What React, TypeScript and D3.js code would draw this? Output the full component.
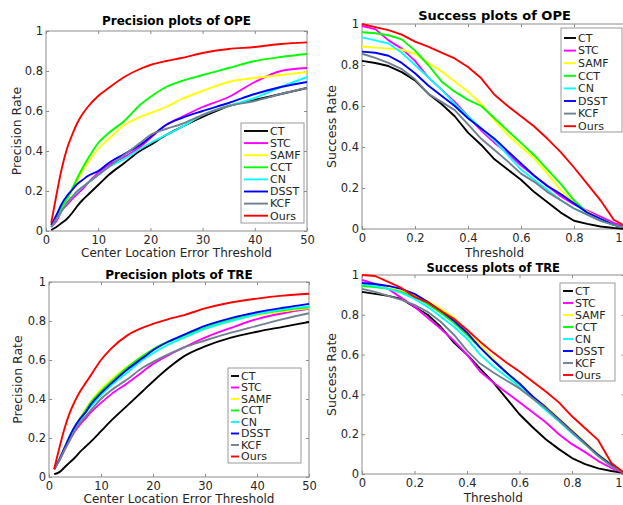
import React, { useEffect, useRef } from "react";
import * as d3 from "d3";

// trackers in legend / draw order
const trackers = ["CT", "STC", "SAMF", "CCT", "CN", "DSST", "KCF", "Ours"];
const colors = ["#000000", "#ff00ff", "#ffff00", "#00ff00", "#00ffff", "#0000ff", "#708090", "#ff0000"];

// x samples
const precX = [1, 2, 3, 4, 5, 6, 7, 8, 10, 12, 15, 18, 20, 23, 26, 30, 35, 40, 45, 50];
const succX = [0, 0.05, 0.1, 0.15, 0.2, 0.25, 0.3, 0.35, 0.4, 0.45, 0.5, 0.55, 0.6, 0.65, 0.7, 0.75, 0.8, 0.85, 0.9, 0.95, 1];

// precision OPE, one row per tracker
const precOPE = [
  [0.005, 0.02, 0.04, 0.06, 0.09, 0.125, 0.155, 0.18, 0.23, 0.28, 0.34, 0.4, 0.43, 0.48, 0.52, 0.57, 0.625, 0.655, 0.685, 0.715],
  [0.02, 0.05, 0.1, 0.13, 0.16, 0.185, 0.21, 0.24, 0.29, 0.33, 0.37, 0.42, 0.465, 0.53, 0.57, 0.62, 0.67, 0.745, 0.8, 0.815],
  [0.03, 0.07, 0.12, 0.16, 0.2, 0.25, 0.3, 0.34, 0.41, 0.46, 0.53, 0.57, 0.59, 0.62, 0.66, 0.7, 0.745, 0.765, 0.78, 0.795],
  [0.03, 0.07, 0.12, 0.16, 0.21, 0.265, 0.315, 0.36, 0.44, 0.49, 0.55, 0.63, 0.67, 0.72, 0.75, 0.78, 0.815, 0.85, 0.87, 0.885],
  [0.02, 0.06, 0.1, 0.14, 0.17, 0.195, 0.22, 0.24, 0.28, 0.32, 0.36, 0.41, 0.44, 0.48, 0.52, 0.58, 0.625, 0.665, 0.72, 0.77],
  [0.03, 0.08, 0.135, 0.175, 0.205, 0.235, 0.255, 0.275, 0.3, 0.34, 0.385, 0.43, 0.47, 0.53, 0.565, 0.6, 0.64, 0.685, 0.72, 0.745],
  [0.02, 0.06, 0.1, 0.14, 0.17, 0.2, 0.22, 0.24, 0.28, 0.32, 0.38, 0.44, 0.48, 0.51, 0.535, 0.58, 0.625, 0.65, 0.685, 0.715],
  [0.04, 0.18, 0.31, 0.41, 0.48, 0.54, 0.585, 0.62, 0.675, 0.715, 0.77, 0.81, 0.83, 0.85, 0.865, 0.89, 0.91, 0.92, 0.935, 0.943],
];

// success OPE
const succOPE = [
  [0.82, 0.81, 0.795, 0.765, 0.725, 0.66, 0.61, 0.55, 0.47, 0.41, 0.34, 0.29, 0.24, 0.18, 0.13, 0.08, 0.04, 0.025, 0.012, 0.005, 0],
  [0.99, 0.975, 0.92, 0.88, 0.82, 0.74, 0.68, 0.62, 0.55, 0.48, 0.42, 0.37, 0.31, 0.26, 0.21, 0.16, 0.12, 0.09, 0.06, 0.03, 0.01],
  [0.89, 0.885, 0.88, 0.875, 0.855, 0.81, 0.77, 0.72, 0.67, 0.61, 0.53, 0.46, 0.4, 0.345, 0.27, 0.19, 0.13, 0.085, 0.05, 0.02, 0.005],
  [0.96, 0.955, 0.945, 0.925, 0.87, 0.8, 0.72, 0.67, 0.63, 0.6, 0.54, 0.48, 0.42, 0.36, 0.29, 0.22, 0.14, 0.08, 0.05, 0.02, 0.005],
  [0.935, 0.92, 0.905, 0.86, 0.8, 0.74, 0.68, 0.61, 0.55, 0.49, 0.43, 0.36, 0.29, 0.24, 0.19, 0.14, 0.1, 0.07, 0.04, 0.02, 0.005],
  [0.865, 0.86, 0.845, 0.81, 0.76, 0.7, 0.65, 0.6, 0.54, 0.49, 0.44, 0.38, 0.32, 0.26, 0.21, 0.17, 0.125, 0.08, 0.05, 0.02, 0.005],
  [0.855, 0.835, 0.81, 0.78, 0.73, 0.66, 0.62, 0.58, 0.51, 0.44, 0.385, 0.33, 0.27, 0.23, 0.18, 0.14, 0.1, 0.07, 0.04, 0.02, 0.005],
  [1.0, 0.985, 0.97, 0.948, 0.914, 0.89, 0.86, 0.832, 0.79, 0.735, 0.655, 0.6, 0.55, 0.5, 0.44, 0.375, 0.3, 0.22, 0.14, 0.045, 0.01],
];

// precision TRE
const precTRE = [
  [0.015, 0.025, 0.05, 0.075, 0.1, 0.13, 0.155, 0.18, 0.235, 0.29, 0.365, 0.44, 0.49, 0.56, 0.62, 0.67, 0.715, 0.745, 0.77, 0.795],
  [0.04, 0.085, 0.14, 0.19, 0.235, 0.27, 0.3, 0.33, 0.38, 0.425, 0.48, 0.54, 0.58, 0.625, 0.665, 0.715, 0.765, 0.81, 0.84, 0.862],
  [0.04, 0.09, 0.15, 0.21, 0.26, 0.305, 0.345, 0.385, 0.45, 0.5, 0.565, 0.62, 0.65, 0.69, 0.72, 0.76, 0.8, 0.83, 0.85, 0.865],
  [0.04, 0.09, 0.15, 0.21, 0.26, 0.3, 0.34, 0.38, 0.44, 0.49, 0.56, 0.62, 0.655, 0.695, 0.725, 0.765, 0.805, 0.835, 0.855, 0.87],
  [0.04, 0.09, 0.145, 0.2, 0.25, 0.29, 0.33, 0.36, 0.42, 0.47, 0.535, 0.6, 0.635, 0.68, 0.715, 0.76, 0.8, 0.835, 0.86, 0.875],
  [0.04, 0.09, 0.15, 0.21, 0.26, 0.3, 0.33, 0.37, 0.43, 0.48, 0.55, 0.61, 0.65, 0.695, 0.73, 0.775, 0.815, 0.845, 0.868, 0.888],
  [0.04, 0.085, 0.14, 0.19, 0.24, 0.28, 0.31, 0.34, 0.4, 0.445, 0.5, 0.56, 0.59, 0.63, 0.665, 0.7, 0.74, 0.775, 0.81, 0.84],
  [0.04, 0.15, 0.25, 0.33, 0.39, 0.44, 0.48, 0.52, 0.6, 0.66, 0.725, 0.765, 0.785, 0.81, 0.83, 0.865, 0.895, 0.915, 0.93, 0.94],
];

// success TRE
const succTRE = [
  [0.915, 0.905, 0.895, 0.88, 0.84, 0.8, 0.74, 0.66, 0.6, 0.53, 0.46, 0.38, 0.3, 0.235, 0.175, 0.125, 0.08, 0.05, 0.028, 0.015, 0.005],
  [0.975, 0.955, 0.93, 0.885, 0.84, 0.785, 0.73, 0.67, 0.6, 0.515, 0.46, 0.41, 0.36, 0.31, 0.26, 0.2, 0.15, 0.11, 0.065, 0.03, 0.005],
  [0.95, 0.945, 0.935, 0.92, 0.9, 0.87, 0.83, 0.785, 0.72, 0.65, 0.58, 0.51, 0.45, 0.39, 0.34, 0.28, 0.22, 0.16, 0.1, 0.05, 0.005],
  [0.945, 0.94, 0.93, 0.915, 0.89, 0.855, 0.81, 0.76, 0.7, 0.635, 0.57, 0.51, 0.45, 0.39, 0.33, 0.27, 0.21, 0.15, 0.09, 0.04, 0.005],
  [0.955, 0.945, 0.93, 0.91, 0.88, 0.84, 0.79, 0.74, 0.68, 0.6, 0.54, 0.49, 0.44, 0.38, 0.32, 0.265, 0.205, 0.15, 0.095, 0.045, 0.005],
  [0.96, 0.955, 0.945, 0.93, 0.905, 0.865, 0.82, 0.77, 0.71, 0.635, 0.57, 0.51, 0.455, 0.39, 0.335, 0.275, 0.215, 0.155, 0.095, 0.045, 0.005],
  [0.93, 0.915, 0.895, 0.875, 0.85, 0.815, 0.765, 0.7, 0.62, 0.555, 0.51, 0.47, 0.43, 0.38, 0.33, 0.27, 0.21, 0.15, 0.09, 0.04, 0.005],
  [1.0, 0.995, 0.965, 0.935, 0.89, 0.862, 0.82, 0.78, 0.725, 0.665, 0.61, 0.56, 0.515, 0.465, 0.415, 0.36, 0.29, 0.23, 0.17, 0.055, 0.005],
];

const rateTicks = [0, 0.2, 0.4, 0.6, 0.8, 1];
const errTicks = [0, 10, 20, 30, 40, 50];

const panels = [
  {
    x0: 46, x1: 307, y0: 31, y1: 231, xs: precX, rows: precOPE, xMax: 50, xTicks: errTicks, smooth: true,
    title: "Precision plots of OPE", titleY: 25, titleSize: 12,
    xLabel: "Center Location Error Threshold", xLabelY: 257, yLabel: "Precision Rate", yLabelX: 17,
    leg: { x: 241, y: 123, w: 63, h: 100, line: 24, first: 131, gap: 12.1 },
  },
  {
    x0: 362, x1: 627, y0: 24, y1: 229, xs: succX, rows: succOPE, xMax: 1, xTicks: rateTicks, smooth: false,
    title: "Success plots of OPE", titleY: 20, titleSize: 13,
    xLabel: "Threshold", xLabelY: 257, yLabel: "Success Rate", yLabelX: 332,
    leg: { x: 561, y: 28, w: 61, h: 104, line: 12, first: 38, gap: 12.6 },
  },
  {
    x0: 49, x1: 309, y0: 282, y1: 477, xs: precX, rows: precTRE, xMax: 50, xTicks: errTicks, smooth: true,
    title: "Precision plots of TRE", titleY: 279, titleSize: 12,
    xLabel: "Center Location Error Threshold", xLabelY: 503, yLabel: "Precision Rate", yLabelX: 18,
    leg: { x: 228, y: 368, w: 73, h: 95, line: 8, first: 376, gap: 11.5 },
  },
  {
    x0: 362, x1: 624.5, y0: 275, y1: 474, xs: succX, rows: succTRE, xMax: 1, xTicks: rateTicks, smooth: false,
    title: "Success plots of TRE", titleY: 272, titleSize: 11.5,
    xLabel: "Threshold", xLabelY: 502, yLabel: "Success Rate", yLabelX: 332,
    leg: { x: 560, y: 283, w: 55, h: 98, line: 10, first: 291, gap: 12 },
  },
];

const font = "DejaVu Sans, sans-serif";
const textColor = "#262626";
const axisColor = "#8c8c8c";
const viewW = 623;

function drawPanel(svg: any, p: any) {
  const x = d3.scaleLinear().domain([0, p.xMax]).range([p.x0, p.x1]);
  const y = d3.scaleLinear().domain([0, 1]).range([p.y1, p.y0]);
  const g = svg.append("g");
  const fmt = d3.format("~g");

  g.append("rect")
    .attr("x", p.x0).attr("y", p.y0)
    .attr("width", p.x1 - p.x0).attr("height", p.y1 - p.y0)
    .attr("fill", "white").attr("stroke", axisColor).attr("stroke-width", 1);

  const styleAxis = (sel: any) => {
    sel.select(".domain").remove();
    sel.selectAll(".tick line").attr("stroke", axisColor);
    sel.selectAll("text").attr("fill", textColor).attr("font-family", font).attr("font-size", "11.5px");
  };

  const bottom = g.append("g").attr("transform", `translate(0,${p.y1})`)
    .call(d3.axisBottom(x).tickValues(p.xTicks).tickFormat(fmt).tickSizeInner(-3).tickSizeOuter(0).tickPadding(5))
    .call(styleAxis);
  // keep tick labels that sit at the right edge of the page inside it
  bottom.selectAll(".tick").each(function (this: any, d: any) {
    if (x(d) + 4 > viewW) {
      d3.select(this).select("text").attr("text-anchor", "end").attr("x", viewW - 1 - x(d));
    }
  });
  g.append("g").attr("transform", `translate(0,${p.y0})`)
    .call(d3.axisTop(x).tickValues(p.xTicks).tickFormat(() => "").tickSizeInner(-3).tickSizeOuter(0))
    .call(styleAxis);
  g.append("g").attr("transform", `translate(${p.x0},0)`)
    .call(d3.axisLeft(y).tickValues(rateTicks).tickFormat(fmt).tickSizeInner(-3).tickSizeOuter(0).tickPadding(3))
    .call(styleAxis);
  g.append("g").attr("transform", `translate(${p.x1},0)`)
    .call(d3.axisRight(y).tickValues(rateTicks).tickFormat(() => "").tickSizeInner(-3).tickSizeOuter(0))
    .call(styleAxis);

  const line = d3.line<number>()
    .x((_, i) => x(p.xs[i]))
    .y((d) => y(d))
    .curve(p.smooth ? d3.curveMonotoneX : d3.curveLinear);

  p.rows.forEach((row: number[], i: number) => {
    g.append("path").attr("d", line(row)).attr("fill", "none")
      .attr("stroke", colors[i]).attr("stroke-width", 1.9).attr("stroke-linejoin", "round");
  });

  g.append("text")
    .attr("x", (p.x0 + Math.min(p.x1, 627)) / 2).attr("y", p.titleY)
    .attr("text-anchor", "middle").attr("font-family", font).attr("font-weight", "bold")
    .attr("font-size", p.titleSize + "px").attr("fill", "#000").text(p.title);

  g.append("text")
    .attr("x", (p.x0 + p.x1) / 2).attr("y", p.xLabelY)
    .attr("text-anchor", "middle").attr("font-family", font)
    .attr("font-size", "12px").attr("fill", textColor).text(p.xLabel);

  g.append("text")
    .attr("transform", `translate(${p.yLabelX},${(p.y0 + p.y1) / 2}) rotate(-90)`)
    .attr("dy", "0.35em").attr("text-anchor", "middle").attr("font-family", font)
    .attr("font-size", "12.5px").attr("fill", textColor).text(p.yLabel);

  const L = p.leg;
  g.append("rect").attr("x", L.x).attr("y", L.y).attr("width", L.w).attr("height", L.h)
    .attr("fill", "white").attr("stroke", "#808080").attr("stroke-width", 0.8);
  trackers.forEach((name, i) => {
    const ry = L.first + i * L.gap;
    g.append("line").attr("x1", L.x + 3).attr("x2", L.x + 3 + L.line)
      .attr("y1", ry).attr("y2", ry).attr("stroke", colors[i]).attr("stroke-width", 1.9);
    g.append("text").attr("x", L.x + 5 + L.line).attr("y", ry).attr("dy", "0.35em")
      .attr("font-family", font).attr("font-size", "11px").attr("fill", textColor).text(name);
  });
}

export default function App() {
  const svgRef = useRef<SVGSVGElement>(null);

  useEffect(() => {
    if (!svgRef.current) return;
    const svg = d3.select(svgRef.current);
    svg.selectAll("*").remove();
    svg.append("rect").attr("width", 623).attr("height", 505).attr("fill", "white");
    panels.forEach((p) => drawPanel(svg, p));
  }, []);

  return (
    <div style={{ position: "absolute", left: 0, top: 0 }}>
      <svg ref={svgRef} width={623} height={505} style={{ display: "block" }} />
    </div>
  );
}
